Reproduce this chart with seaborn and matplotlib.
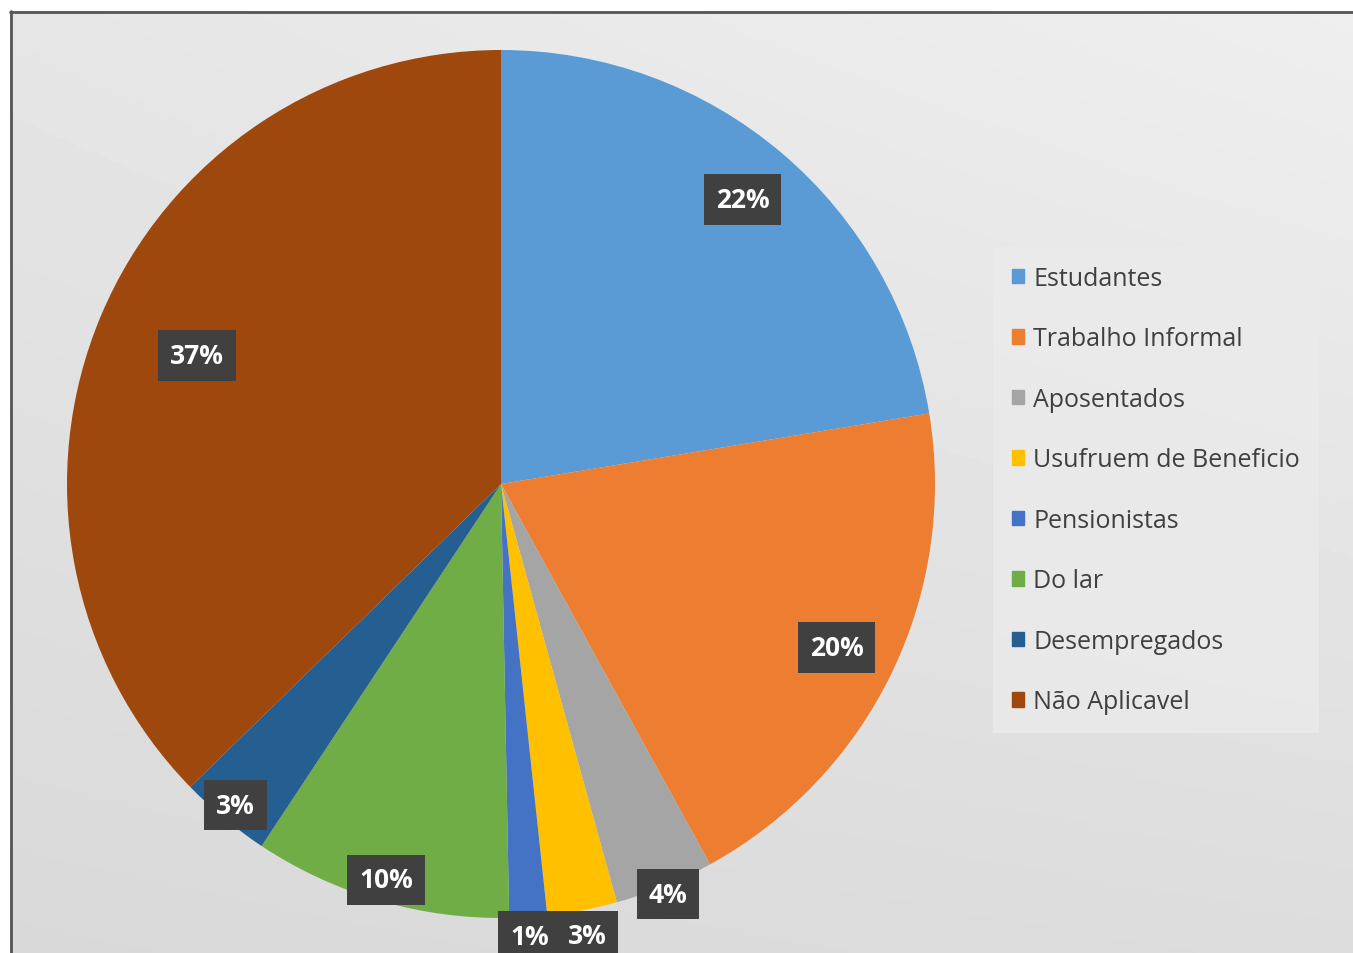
import numpy as np
import matplotlib
matplotlib.use("Agg")
import matplotlib.pyplot as plt
import seaborn as sns
from matplotlib.patches import Rectangle

sns.set_theme(style="white")
plt.rcParams["font.family"] = ["Open Sans", "DejaVu Sans"]

# Data
categories = ["Estudantes", "Trabalho Informal", "Aposentados",
              "Usufruem de Beneficio", "Pensionistas", "Do lar",
              "Desempregados", "Não Aplicavel"]
shares = [22.4, 19.6, 3.7, 2.6, 1.4, 9.6, 3.4, 37.3]
colors = ["#5B9BD5", "#ED7D31", "#A5A5A5", "#FFC000",
          "#4472C4", "#70AD47", "#255E91", "#9E480E"]
# radial position of each percent label (fraction of radius)
label_dist = [0.86, 0.86, 1.02, 1.06, 1.045, 0.95, 0.96, 0.76]

W, H = 1353, 954
fig = plt.figure(figsize=(W / 100, H / 100), dpi=100)
fig.patch.set_facecolor("white")

# gradient background panel with dark frame on left/top
bg = fig.add_axes([10 / W, 0, 1 - 10 / W, 1 - 12 / H])
yy, xx = np.mgrid[0:1:200j, 0:1:300j]
grad = 0.90 - 0.05 * yy + 0.035 * xx - 0.02 * xx * yy
bg.imshow(grad, cmap="gray", vmin=0, vmax=1, aspect="auto",
          extent=[0, 1, 0, 1], origin="upper")
bg.set_axis_off()
fig.add_artist(plt.Line2D([11 / W, 11 / W], [0, 1 - 12 / H],
                          color="#555555", lw=2, transform=fig.transFigure))
fig.add_artist(plt.Line2D([10 / W, 1], [1 - 13 / H, 1 - 13 / H],
                          color="#555555", lw=2, transform=fig.transFigure))

# pie axes: centre (501, 485) px, radius 434 px
cx, cy, r = 501, 485, 434
ax = fig.add_axes([(cx - r) / W, (H - cy - r) / H, 2 * r / W, 2 * r / H])
wedges, _ = ax.pie(shares, colors=colors, startangle=90, counterclock=False,
                   radius=1, wedgeprops=dict(edgecolor="none"))
ax.set_xlim(-1, 1)
ax.set_ylim(-1, 1)
ax.set_aspect("equal")
ax.set_axis_off()

for w, val, d in zip(wedges, shares, label_dist):
    ang = np.deg2rad((w.theta1 + w.theta2) / 2)
    ax.text(d * np.cos(ang), d * np.sin(ang), f"{val:.0f}%",
            ha="center", va="center", color="white", fontsize=19,
            fontweight="bold", clip_on=False, zorder=5,
            bbox=dict(boxstyle="square,pad=0.45", fc="#404040", ec="none"))

# legend
handles = [Rectangle((0, 0), 1, 1, color=c) for c in colors]
leg = fig.legend(handles, categories, loc="upper left",
                 bbox_to_anchor=(993 / W, 1 - 248 / H), frameon=True,
                 fontsize=18, handlelength=0.5, handleheight=0.5,
                 handletextpad=0.35, labelspacing=1.42, borderpad=0.75,
                 borderaxespad=0, fancybox=False)
leg.get_frame().set_facecolor("#ebebeb")
leg.get_frame().set_edgecolor("none")
for t in leg.get_texts():
    t.set_color("#404040")

fig.savefig("out.png", dpi=100)
